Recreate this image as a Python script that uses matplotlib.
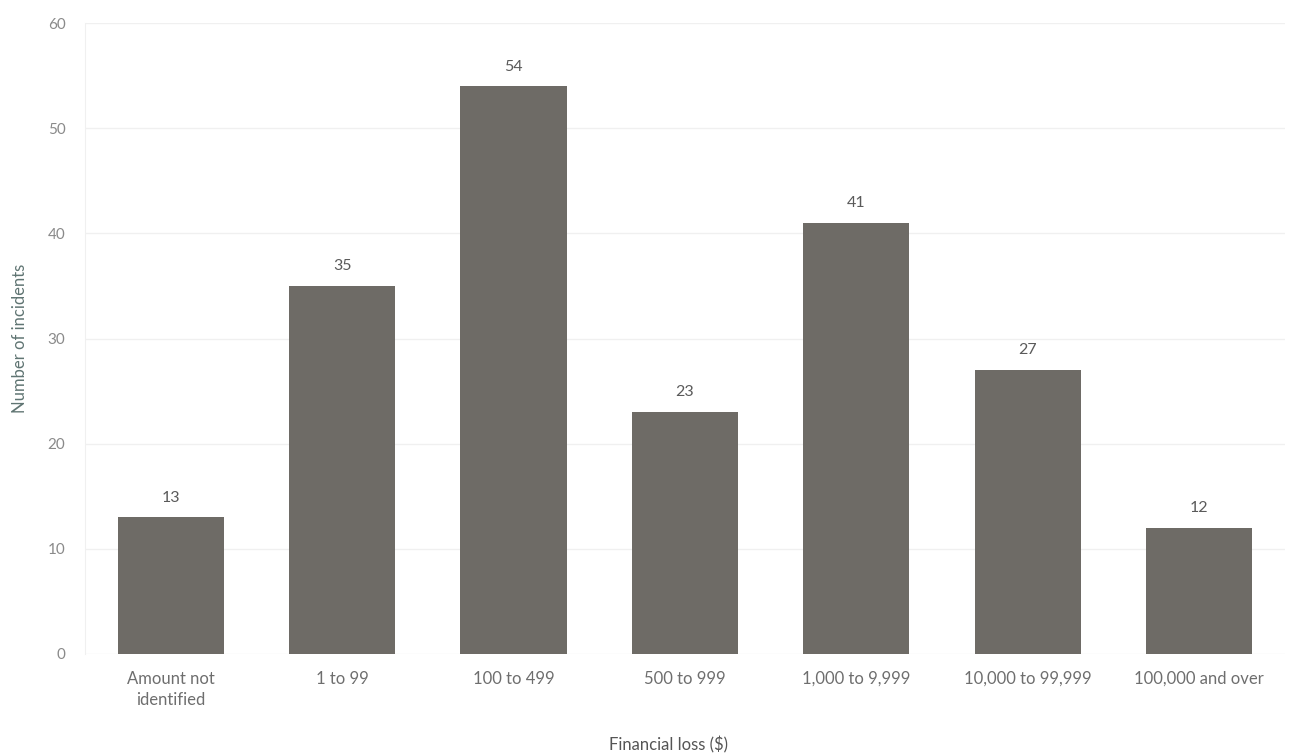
import matplotlib
matplotlib.use('Agg')
import numpy as np
from matplotlib import pyplot as plt

categories = ['Amount not\nidentified', '1 to 99', '100 to 499', '500 to 999',
              '1,000 to 9,999', '10,000 to 99,999', '100,000 and over']
incidents = [13, 35, 54, 23, 41, 27, 12]
y_ticks = [0, 10, 20, 30, 40, 50, 60]

bar_color = '#6e6b66'
tick_color = '#8a8a8a'

plt.rcParams['font.family'] = ['Lato', 'DejaVu Sans']

fig = plt.figure(figsize=(12.95, 7.55), dpi=100)
ax = fig.add_axes([0.0656, 0.1338, 0.9266, 0.8357])

x = np.arange(len(categories))
bars = ax.bar(x, incidents, width=0.62, color=bar_color, zorder=3)

for rect, val in zip(bars, incidents):
    ax.text(rect.get_x() + rect.get_width() / 2, val + 1.2, str(val),
            ha='center', va='bottom', fontsize=11.5, color='#5a5a5a')

ax.set_xlim(-0.5, len(categories) - 0.5)
ax.set_ylim(0, 60)
ax.set_yticks(y_ticks)
ax.set_xticks(x)
ax.set_xticklabels(categories, fontsize=12, color='#6e6e6e', linespacing=1.4)
ax.tick_params(axis='y', labelsize=11, labelcolor=tick_color, length=0, pad=14)
ax.tick_params(axis='x', length=0, pad=12)

ax.grid(True, axis='y', color='#f0f0f0', linewidth=1, zorder=0)
for side in ['top', 'right', 'bottom']:
    ax.spines[side].set_visible(False)
ax.spines['left'].set_color('#f0f0f0')

ax.set_ylabel('Number of incidents', fontsize=12, color='#5f7472', labelpad=14)
fig.text(0.516, 0.002, 'Financial loss ($)', ha='center', va='bottom',
         fontsize=12, color='#555555')

fig.savefig('out.png', dpi=100)
